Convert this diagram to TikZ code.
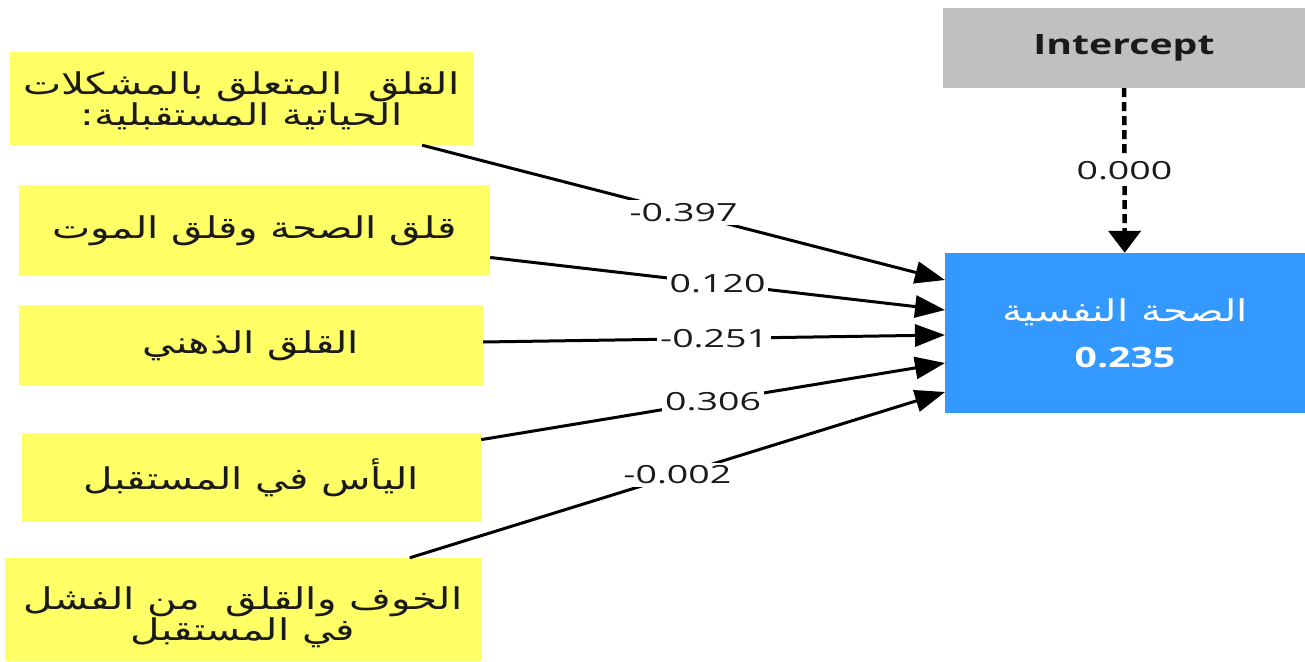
\documentclass[tikz,border=0pt]{standalone}
\usepackage{fontspec}
\usetikzlibrary{arrows.meta}
\TeXXeTstate=1
\newfontfamily\arabicfont[Script=Arabic,FakeStretch=1.35]{DejaVu Sans}
\newfontfamily\latinfont[FakeStretch=1.5]{Open Sans}
\newfontfamily\latinboldfont[FakeStretch=1.4]{Open Sans}
\definecolor{boxyellow}{HTML}{FFFF66}
\definecolor{boxgray}{HTML}{C0C0C0}
\definecolor{boxblue}{HTML}{3399FF}
\definecolor{txt}{HTML}{1A1A1A}
\tikzset{
  srcbox/.style={fill=boxyellow, draw=none, inner sep=0pt, align=center, text=txt,
    font=\arabicfont\fontsize{30bp}{30bp}\selectfont},
  arr/.style={line width=3bp, -{Triangle[length=30bp,width=22bp]}},
  darr/.style={line width=4.5bp, dash pattern=on 9bp off 5bp, -{Triangle[length=22bp,width=32bp]}},
  lbl/.style={fill=white, inner sep=3bp, text=txt, font=\latinfont\fontsize{25bp}{30bp}\selectfont}
}
\begin{document}
\begin{tikzpicture}[x=1bp,y=-1bp]
\useasboundingbox (0,0) rectangle (1305,661);
\node[srcbox, minimum width=463bp, minimum height=93bp] (b1) at (241.5,98.5)
  {\rule{0pt}{28bp}\beginR القلق\ \ المتعلق بالمشكلات\endR\\\beginR الحياتية المستقبلية:\endR};
\node[srcbox, minimum width=471bp, minimum height=91bp] (b2) at (254.5,230.5)
  {\beginR قلق الصحة وقلق الموت\endR};
\node[srcbox, minimum width=464bp, minimum height=81bp] (b3) at (251,345.5)
  {\beginR القلق الذهني\endR};
\node[srcbox, minimum width=459bp, minimum height=89bp] (b4) at (251.5,477.5)
  {\beginR اليأس في المستقبل\endR};
\node[srcbox, minimum width=476bp, minimum height=103bp] (b5) at (243,609.5)
  {\rule{0pt}{38bp}\beginR الخوف والقلق\ \ من الفشل\endR\\\beginR في المستقبل\endR};
\node[fill=boxgray, minimum width=362bp, minimum height=80bp, inner sep=0pt, text=txt,
  font=\latinboldfont\bfseries\fontsize{28bp}{30bp}\selectfont] (ic) at (1124,48) {Intercept};
\node[fill=boxblue, minimum width=360bp, minimum height=160bp, inner sep=0pt, text=white, align=center] (dv) at (1125,333)
  {{\arabicfont\fontsize{30bp}{30bp}\selectfont\beginR الصحة النفسية\endR}\\[20bp]
   {\latinboldfont\bfseries\fontsize{28bp}{30bp}\selectfont 0.235}};
\coordinate (t1) at (945,280);
\coordinate (t2) at (945,310);
\coordinate (t3) at (945,335);
\coordinate (t4) at (945,363);
\coordinate (t5) at (945,392);
\draw[arr] (b1) -- (t1) node[lbl, pos=0.5] {-0.397};
\draw[arr] (b2) -- (t2) node[lbl, pos=0.5] {0.120};
\draw[arr] (b3) -- (t3) node[lbl, pos=0.5] {-0.251};
\draw[arr] (b4) -- (t4) node[lbl, pos=0.5] {0.306};
\draw[arr] (b5) -- (t5) node[lbl, pos=0.5] {-0.002};
\draw[darr] (ic) -- (dv) node[lbl, pos=0.5] {0.000};
\end{tikzpicture}
\end{document}
